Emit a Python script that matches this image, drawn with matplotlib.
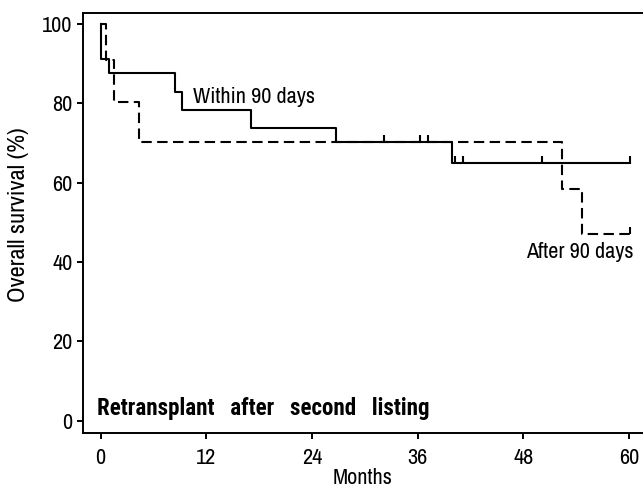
import matplotlib
matplotlib.use("Agg")
import matplotlib.pyplot as plt

plt.rcParams['font.family'] = ['Archivo Narrow', 'Liberation Sans', 'DejaVu Sans']
bold_family = ['Roboto Condensed', 'IBM Plex Sans Condensed', 'Archivo Narrow']

# Kaplan-Meier step data (months, % survival)
within_times = [0, 0.1, 0.98, 8.5, 9.2, 17.1, 26.7, 39.9, 60.1]
within_surv = [100, 91.1, 87.6, 82.9, 78.4, 73.8, 70.2, 65.0, 65.0]
within_censor_times = [32.2, 36.3, 37.2, 40.2, 41.2, 50.1, 60.1]
within_censor_surv = [70.2, 70.2, 70.2, 65.0, 65.0, 65.0, 65.0]

after_times = [0, 0.57, 1.55, 4.4, 52.4, 54.7, 60.1]
after_surv = [100, 91.0, 80.3, 70.2, 58.4, 47.0, 47.0]
after_censor_times = [60.1]
after_censor_surv = [47.0]

xticks = [0, 12, 24, 36, 48, 60]
yticks = [0, 20, 40, 60, 80, 100]

W, H = 643, 493
fig = plt.figure(figsize=(W / 100, H / 100), dpi=100)
left, right, top, bottom = 83, 643, 12.7, 433
ax = fig.add_axes([left / W, (H - bottom) / H, (right - left) / W, (bottom - top) / H])

lw = 1.5
ax.step(within_times, within_surv, where='post', color='black', lw=lw)
ax.step(after_times, after_surv, where='post', color='black', lw=lw,
        dashes=(5, 2.6))
tick_h = 1.8
ax.vlines(within_censor_times, within_censor_surv,
          [s + tick_h for s in within_censor_surv], color='black', lw=lw)
ax.vlines(after_censor_times, after_censor_surv,
          [s + tick_h for s in after_censor_surv], color='black', lw=lw)

ax.set_xlim(-2.0, 61.6)
ax.set_ylim(-3.15, 102.85)
ax.set_xticks(xticks)
ax.set_yticks(yticks)
fs = 16
ax.tick_params(axis='both', direction='out', length=4.5, width=1.4,
               labelsize=fs, color='black')
ax.tick_params(axis='x', pad=6)
ax.tick_params(axis='y', pad=3)
for s in ['left', 'bottom', 'top']:
    ax.spines[s].set_linewidth(1.4)
ax.spines['right'].set_visible(False)

ax.set_xlabel('Months', fontsize=fs, labelpad=0)
ax.set_ylabel('Overall survival (%)', fontsize=17.5)
ax.yaxis.set_label_coords(-0.096, 0.519)

ax.text(10.5, 81.7, 'Within 90 days', fontsize=fs, va='center', ha='left')
ax.text(60.5, 42.6, 'After 90 days', fontsize=fs, va='center', ha='right')
ax.text(-0.4, 3.0, 'Retransplant   after   second   listing', fontsize=16.6,
        fontweight='bold', family=bold_family, va='center', ha='left')

fig.savefig('out.png', dpi=100)
